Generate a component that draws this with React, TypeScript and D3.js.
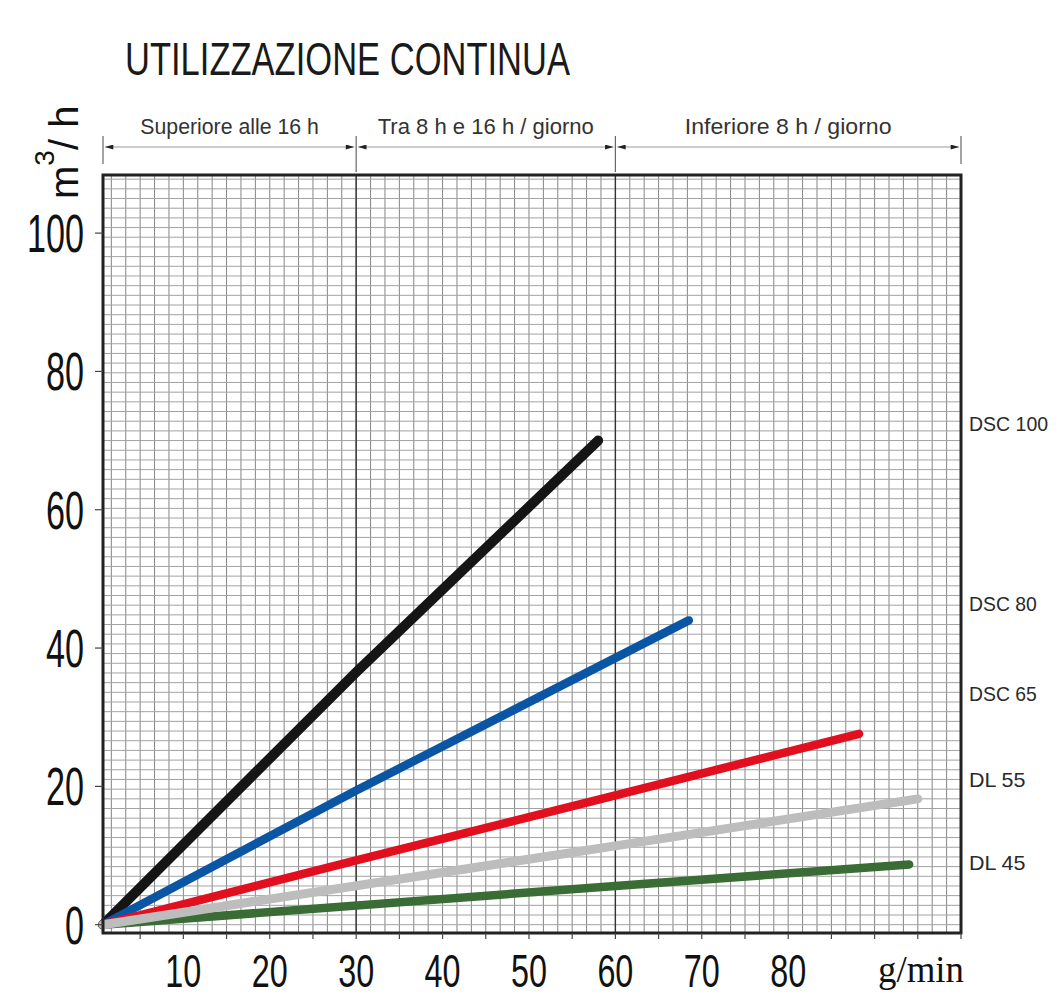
import React, { useEffect, useRef } from 'react';
import * as d3 from 'd3';

// series: [g/min, m3/h]
const seriesNames = ['DSC 100', 'DSC 80', 'DSC 65', 'DL 55', 'DL 45'];
const seriesColors = ['#151515', '#0b56a4', '#e2101f', '#bdbdbd', '#3a6d35'];
const seriesWidths = [10, 8.5, 8.5, 9, 8.5];
const dsc100: [number, number][] = [[0, 0], [30, 36.5], [58, 70]];
const dsc80: [number, number][] = [[0, 0], [30, 19.4], [68.5, 44]];
const dsc65: [number, number][] = [[0, 0], [30, 9.3], [60, 18.7], [88.2, 27.6]];
const dl55: [number, number][] = [[0, 0], [60, 11.4], [95, 18.2]];
const dl45: [number, number][] = [[0, 0], [60, 5.6], [94, 8.7]];
const seriesData = [dsc100, dsc80, dsc65, dl55, dl45];
// where the model names sit on the right, in m3/h
const labelLevels = [72.5, 46.5, 33.5, 21, 9.1];

const xTicks = [10, 20, 30, 40, 50, 60, 70, 80];
const yTicks = [0, 20, 40, 60, 80, 100];
const bandLabels = ['Superiore alle 16 h', 'Tra 8 h e 16 h / giorno', 'Inferiore 8 h / giorno'];
const bandEdges = [0, 30, 60, 100];

const W = 1056;
const H = 999;

const narrow = '"Liberation Sans Narrow", "Liberation Sans", Arial, sans-serif';

export default function App() {
  const svgRef = useRef<SVGSVGElement>(null);

  useEffect(() => {
    if (!svgRef.current) return;
    const svg = d3.select(svgRef.current);
    svg.selectAll('*').remove();

    const left = 103, right = 961, top = 175, bottom = 933;

    const x = d3.scaleLinear().domain([0.7, 100]).range([left, right]).clamp(true);
    const y = d3.scaleLinear().domain([-1.2, 108.4]).range([bottom, top]);

    // title
    svg.append('text')
      .attr('x', 125)
      .attr('y', 75)
      .attr('font-family', narrow)
      .attr('font-size', 47)
      .attr('fill', '#1a1a1a')
      .attr('textLength', 445)
      .attr('lengthAdjust', 'spacingAndGlyphs')
      .text('UTILIZZAZIONE CONTINUA');

    // arrowheads for the header bands
    const defs = svg.append('defs');
    defs.append('marker')
      .attr('id', 'arr')
      .attr('viewBox', '0 0 10 6')
      .attr('refX', 10)
      .attr('refY', 3)
      .attr('markerWidth', 10)
      .attr('markerHeight', 5)
      .attr('markerUnits', 'userSpaceOnUse')
      .attr('orient', 'auto-start-reverse')
      .append('path')
      .attr('d', 'M0,0 L10,3 L0,6 Z')
      .attr('fill', '#222');
    defs.append('clipPath').attr('id', 'plot-clip')
      .append('rect')
      .attr('x', left).attr('y', top)
      .attr('width', right - left).attr('height', bottom - top);

    const header = svg.append('g');
    bandEdges.forEach((e, i) => {
      header.append('line')
        .attr('x1', x(e)).attr('x2', x(e))
        .attr('y1', 136).attr('y2', i === 1 || i === 2 ? 172 : 164)
        .attr('stroke', '#666')
        .attr('stroke-width', 1.2);
    });
    bandLabels.forEach((lab, i) => {
      const a = x(bandEdges[i]) + 2, b = x(bandEdges[i + 1]) - 2;
      header.append('line')
        .attr('x1', a).attr('x2', b)
        .attr('y1', 147).attr('y2', 147)
        .attr('stroke', '#9a9a9a')
        .attr('stroke-width', 1.2)
        .attr('marker-start', 'url(#arr)')
        .attr('marker-end', 'url(#arr)');
      header.append('text')
        .attr('x', (a + b) / 2)
        .attr('y', 134)
        .attr('text-anchor', 'middle')
        .attr('font-family', narrow)
        .attr('font-size', 22)
        .attr('fill', '#333')
        .attr('textLength', lab.length * 9.4)
        .attr('lengthAdjust', 'spacingAndGlyphs')
        .text(lab);
    });

    // grid
    const grid = svg.append('g').attr('clip-path', 'url(#plot-clip)');
    const vStep = 10 / 6;
    const hStep = 1.4;
    d3.range(0, 100 + vStep / 2, vStep).forEach(v => {
      grid.append('line')
        .attr('x1', x(v)).attr('x2', x(v))
        .attr('y1', top).attr('y2', bottom)
        .attr('stroke', '#858585')
        .attr('stroke-width', 1);
    });
    d3.range(0, 108.4, hStep).forEach(v => {
      grid.append('line')
        .attr('x1', left).attr('x2', right)
        .attr('y1', y(v)).attr('y2', y(v))
        .attr('stroke', '#a2a2a2')
        .attr('stroke-width', 1);
    });
    [30, 60].forEach(v => {
      grid.append('line')
        .attr('x1', x(v)).attr('x2', x(v))
        .attr('y1', top).attr('y2', bottom)
        .attr('stroke', '#333')
        .attr('stroke-width', 1.4);
    });

    // series lines (grey drawn last, it sits over the others at the origin)
    const line = d3.line<[number, number]>()
      .x(d => x(d[0]))
      .y(d => y(d[1]));
    const order = [0, 1, 2, 4, 3];
    const lines = svg.append('g');
    order.forEach(i => {
      lines.append('path')
        .datum(seriesData[i])
        .attr('fill', 'none')
        .attr('stroke', seriesColors[i])
        .attr('stroke-width', seriesWidths[i])
        .attr('stroke-linecap', 'round')
        .attr('stroke-linejoin', 'round')
        .attr('d', line);
    });

    // frame
    svg.append('rect')
      .attr('x', left).attr('y', top)
      .attr('width', right - left).attr('height', bottom - top)
      .attr('fill', 'none')
      .attr('stroke', '#222')
      .attr('stroke-width', 3);

    // x ticks
    const xAxis = svg.append('g');
    d3.range(5, 101, 5).forEach(v => {
      xAxis.append('line')
        .attr('x1', x(v)).attr('x2', x(v))
        .attr('y1', bottom).attr('y2', bottom + 6)
        .attr('stroke', '#444')
        .attr('stroke-width', 1.2);
    });
    xTicks.forEach(v => {
      xAxis.append('text')
        .attr('x', x(v))
        .attr('y', 987)
        .attr('text-anchor', 'middle')
        .attr('font-family', narrow)
        .attr('font-size', 46)
        .attr('fill', '#111')
        .attr('textLength', String(v).length * 18)
        .attr('lengthAdjust', 'spacingAndGlyphs')
        .text(v);
    });
    xAxis.append('text')
      .attr('x', 964)
      .attr('y', 982)
      .attr('text-anchor', 'end')
      .attr('font-family', '"Liberation Serif", "Times New Roman", serif')
      .attr('font-size', 38)
      .attr('fill', '#111')
      .attr('textLength', 86)
      .attr('lengthAdjust', 'spacingAndGlyphs')
      .text('g/min');

    // y ticks
    const yAxis = svg.append('g');
    yTicks.forEach(v => {
      yAxis.append('line')
        .attr('x1', left - 8).attr('x2', left)
        .attr('y1', y(v)).attr('y2', y(v))
        .attr('stroke', '#444')
        .attr('stroke-width', 1.2);
      yAxis.append('text')
        .attr('x', 84)
        .attr('y', y(v) + 19)
        .attr('text-anchor', 'end')
        .attr('font-family', narrow)
        .attr('font-size', 54)
        .attr('fill', '#111')
        .attr('textLength', String(v).length * 19)
        .attr('lengthAdjust', 'spacingAndGlyphs')
        .text(v);
    });

    // y unit, rotated
    const unit = svg.append('text')
      .attr('transform', 'translate(78,199) rotate(-90)')
      .attr('font-family', narrow)
      .attr('font-size', 40)
      .attr('fill', '#111');
    unit.append('tspan').text('m');
    unit.append('tspan').attr('dy', -24).attr('font-size', 28).text('3');
    unit.append('tspan').attr('dy', 24).text('/ h');

    // model names on the right
    seriesNames.forEach((name, i) => {
      svg.append('text')
        .attr('x', 969)
        .attr('y', y(labelLevels[i]) + 8)
        .attr('font-family', narrow)
        .attr('font-size', 21)
        .attr('fill', '#2a2a2a')
        .attr('textLength', name.length * 11.3)
        .attr('lengthAdjust', 'spacingAndGlyphs')
        .text(name);
    });
  }, []);

  return (
    <svg
      ref={svgRef}
      width={W}
      height={H}
      style={{ position: 'absolute', left: 0, top: 0, background: '#fff' }}
    />
  );
}
